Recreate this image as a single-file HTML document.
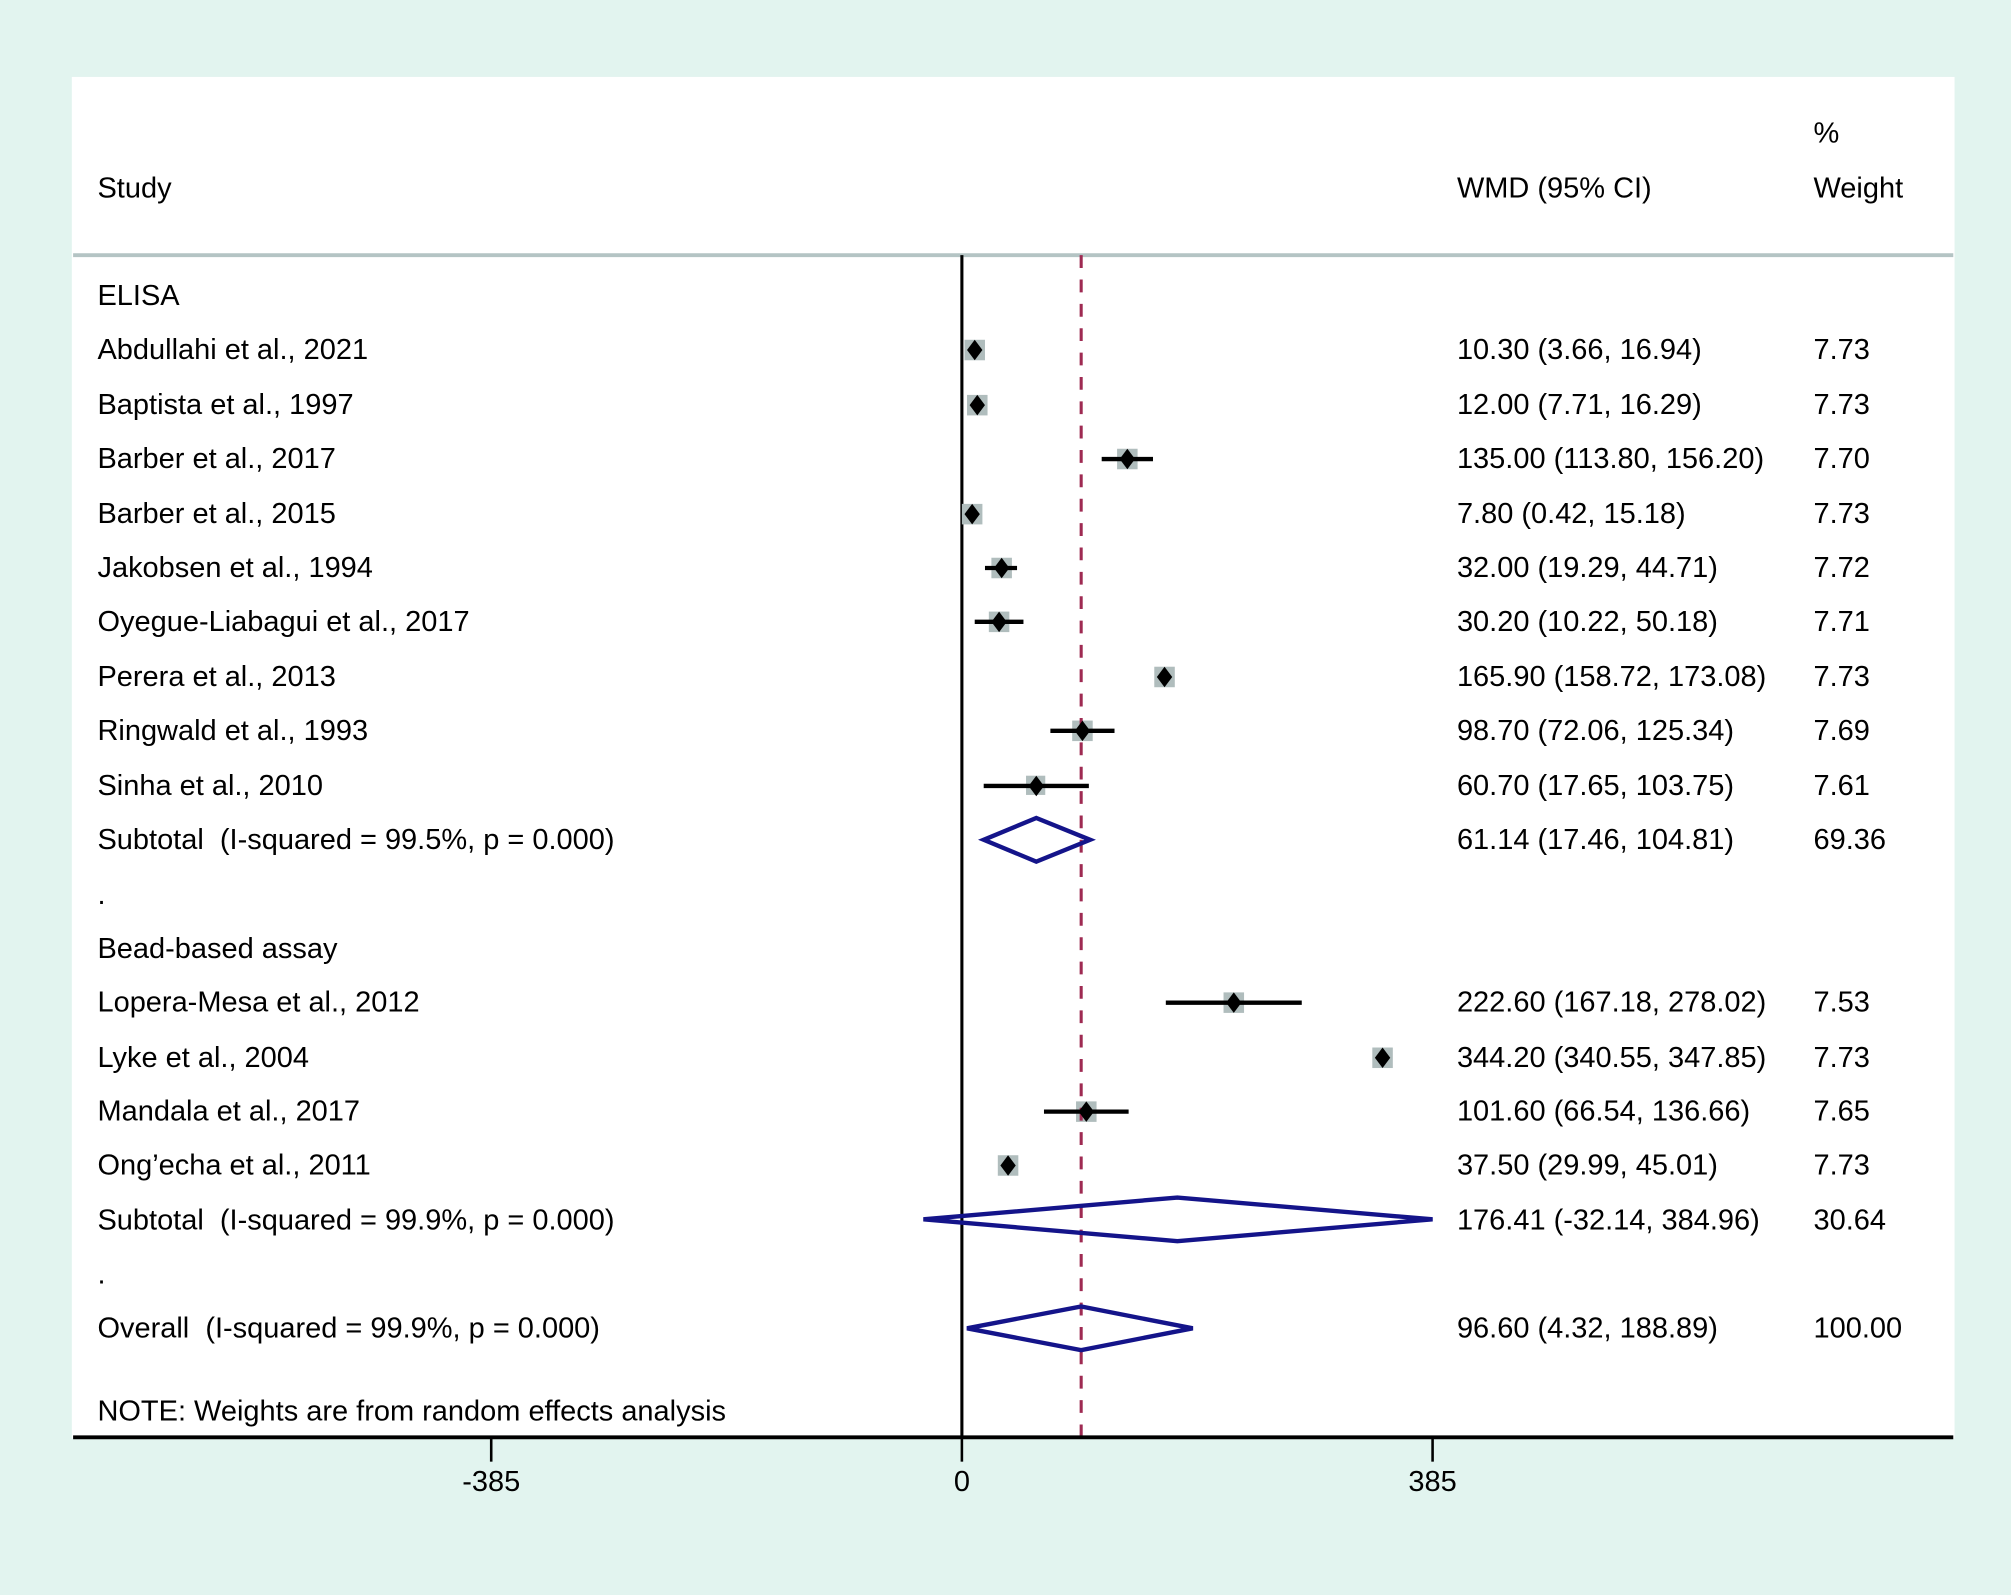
<!DOCTYPE html>
<html><head><meta charset="utf-8"><style>
html,body{margin:0;padding:0;background:#e2f4ef;}
svg{display:block}
text{font-family:"Liberation Sans",sans-serif;font-size:22.6px;fill:#000;white-space:pre;}
</style></head><body>
<svg width="2011" height="1595" viewBox="0 0 1568 1244" preserveAspectRatio="none" xmlns="http://www.w3.org/2000/svg" xml:space="preserve">
<rect x="0" y="0" width="1568" height="1244" fill="#e2f4ef"/>
<rect x="56" y="60" width="1468" height="1062" fill="#fff"/>
<line x1="57" y1="199" x2="1523" y2="199" stroke="#b4c4c4" stroke-width="3"/>
<text x="1414" y="111">%</text>
<text x="76" y="154">Study</text>
<text x="1136" y="154">WMD (95% CI)</text>
<text x="1414" y="154">Weight</text>
<line x1="750" y1="199" x2="750" y2="1122" stroke="#000" stroke-width="2.4"/>
<g fill="#b0bdbd">
<rect x="752" y="265" width="16" height="16"/>
<rect x="754" y="308" width="16" height="16"/>
<rect x="871" y="350" width="16" height="16"/>
<rect x="750" y="393" width="16" height="16"/>
<rect x="773" y="435" width="16" height="16"/>
<rect x="771" y="477" width="16" height="16"/>
<rect x="900" y="520" width="16" height="16"/>
<rect x="836" y="562" width="16" height="16"/>
<rect x="800" y="605" width="15" height="15"/>
<rect x="954" y="774" width="16" height="16"/>
<rect x="1070" y="817" width="16" height="16"/>
<rect x="839" y="859" width="16" height="16"/>
<rect x="778" y="901" width="16" height="16"/>
</g>
<line x1="843" y1="199" x2="843" y2="1122" stroke="#9e2a52" stroke-width="2.4" stroke-dasharray="10,9"/>
<g stroke="#000" stroke-width="3.4">
<line x1="859" y1="358" x2="899" y2="358"/>
<line x1="768" y1="443" x2="793" y2="443"/>
<line x1="760" y1="485" x2="798" y2="485"/>
<line x1="819" y1="570" x2="869" y2="570"/>
<line x1="767" y1="613" x2="849" y2="613"/>
<line x1="909" y1="782" x2="1015" y2="782"/>
<line x1="814" y1="867" x2="880" y2="867"/>
</g>
<g fill="#000">
<path d="M760 265 l6 8 l-6 8 l-6 -8z"/>
<path d="M762 308 l6 8 l-6 8 l-6 -8z"/>
<path d="M879 350 l6 8 l-6 8 l-6 -8z"/>
<path d="M758 393 l6 8 l-6 8 l-6 -8z"/>
<path d="M781 435 l6 8 l-6 8 l-6 -8z"/>
<path d="M779 477 l6 8 l-6 8 l-6 -8z"/>
<path d="M908 520 l6 8 l-6 8 l-6 -8z"/>
<path d="M844 562 l6 8 l-6 8 l-6 -8z"/>
<path d="M808 605 l6 8 l-6 8 l-6 -8z"/>
<path d="M962 774 l6 8 l-6 8 l-6 -8z"/>
<path d="M1078 817 l6 8 l-6 8 l-6 -8z"/>
<path d="M847 859 l6 8 l-6 8 l-6 -8z"/>
<path d="M786 901 l6 8 l-6 8 l-6 -8z"/>
</g>
<g fill="none" stroke="#14148a" stroke-width="3.4" stroke-linejoin="miter">
<path d="M767 655 L808 638 L850 655 L808 672 Z"/>
<path d="M720 951 L918 934 L1117 951 L918 968 Z"/>
<path d="M754 1036 L843 1019 L930 1036 L843 1053 Z"/>
</g>
<line x1="57" y1="1121" x2="1523" y2="1121" stroke="#000" stroke-width="3"/>
<g stroke="#000" stroke-width="2">
<line x1="383" y1="1121" x2="383" y2="1140"/>
<line x1="750" y1="1121" x2="750" y2="1140"/>
<line x1="1117" y1="1121" x2="1117" y2="1140"/>
</g>
<text x="383" y="1163" text-anchor="middle">-385</text>
<text x="750" y="1163" text-anchor="middle">0</text>
<text x="1117" y="1163" text-anchor="middle">385</text>
<text x="76" y="238">ELISA</text>
<text x="76" y="280">Abdullahi et al., 2021</text>
<text x="76" y="323">Baptista et al., 1997</text>
<text x="76" y="365">Barber et al., 2017</text>
<text x="76" y="408">Barber et al., 2015</text>
<text x="76" y="450">Jakobsen et al., 1994</text>
<text x="76" y="492">Oyegue-Liabagui et al., 2017</text>
<text x="76" y="535">Perera et al., 2013</text>
<text x="76" y="577">Ringwald et al., 1993</text>
<text x="76" y="620">Sinha et al., 2010</text>
<text x="76" y="662">Subtotal  (I-squared = 99.5%, p = 0.000)</text>
<text x="76" y="705">.</text>
<text x="76" y="747">Bead-based assay</text>
<text x="76" y="789">Lopera-Mesa et al., 2012</text>
<text x="76" y="832">Lyke et al., 2004</text>
<text x="76" y="874">Mandala et al., 2017</text>
<text x="76" y="916">Ong’echa et al., 2011</text>
<text x="76" y="959">Subtotal  (I-squared = 99.9%, p = 0.000)</text>
<text x="76" y="1001">.</text>
<text x="76" y="1043">Overall  (I-squared = 99.9%, p = 0.000)</text>
<text x="76" y="1108">NOTE: Weights are from random effects analysis</text>
<text x="1136" y="280">10.30 (3.66, 16.94)</text><text x="1414" y="280">7.73</text>
<text x="1136" y="323">12.00 (7.71, 16.29)</text><text x="1414" y="323">7.73</text>
<text x="1136" y="365">135.00 (113.80, 156.20)</text><text x="1414" y="365">7.70</text>
<text x="1136" y="408">7.80 (0.42, 15.18)</text><text x="1414" y="408">7.73</text>
<text x="1136" y="450">32.00 (19.29, 44.71)</text><text x="1414" y="450">7.72</text>
<text x="1136" y="492">30.20 (10.22, 50.18)</text><text x="1414" y="492">7.71</text>
<text x="1136" y="535">165.90 (158.72, 173.08)</text><text x="1414" y="535">7.73</text>
<text x="1136" y="577">98.70 (72.06, 125.34)</text><text x="1414" y="577">7.69</text>
<text x="1136" y="620">60.70 (17.65, 103.75)</text><text x="1414" y="620">7.61</text>
<text x="1136" y="662">61.14 (17.46, 104.81)</text><text x="1414" y="662">69.36</text>
<text x="1136" y="789">222.60 (167.18, 278.02)</text><text x="1414" y="789">7.53</text>
<text x="1136" y="832">344.20 (340.55, 347.85)</text><text x="1414" y="832">7.73</text>
<text x="1136" y="874">101.60 (66.54, 136.66)</text><text x="1414" y="874">7.65</text>
<text x="1136" y="916">37.50 (29.99, 45.01)</text><text x="1414" y="916">7.73</text>
<text x="1136" y="959">176.41 (-32.14, 384.96)</text><text x="1414" y="959">30.64</text>
<text x="1136" y="1043">96.60 (4.32, 188.89)</text><text x="1414" y="1043">100.00</text>
</svg>
</body></html>
